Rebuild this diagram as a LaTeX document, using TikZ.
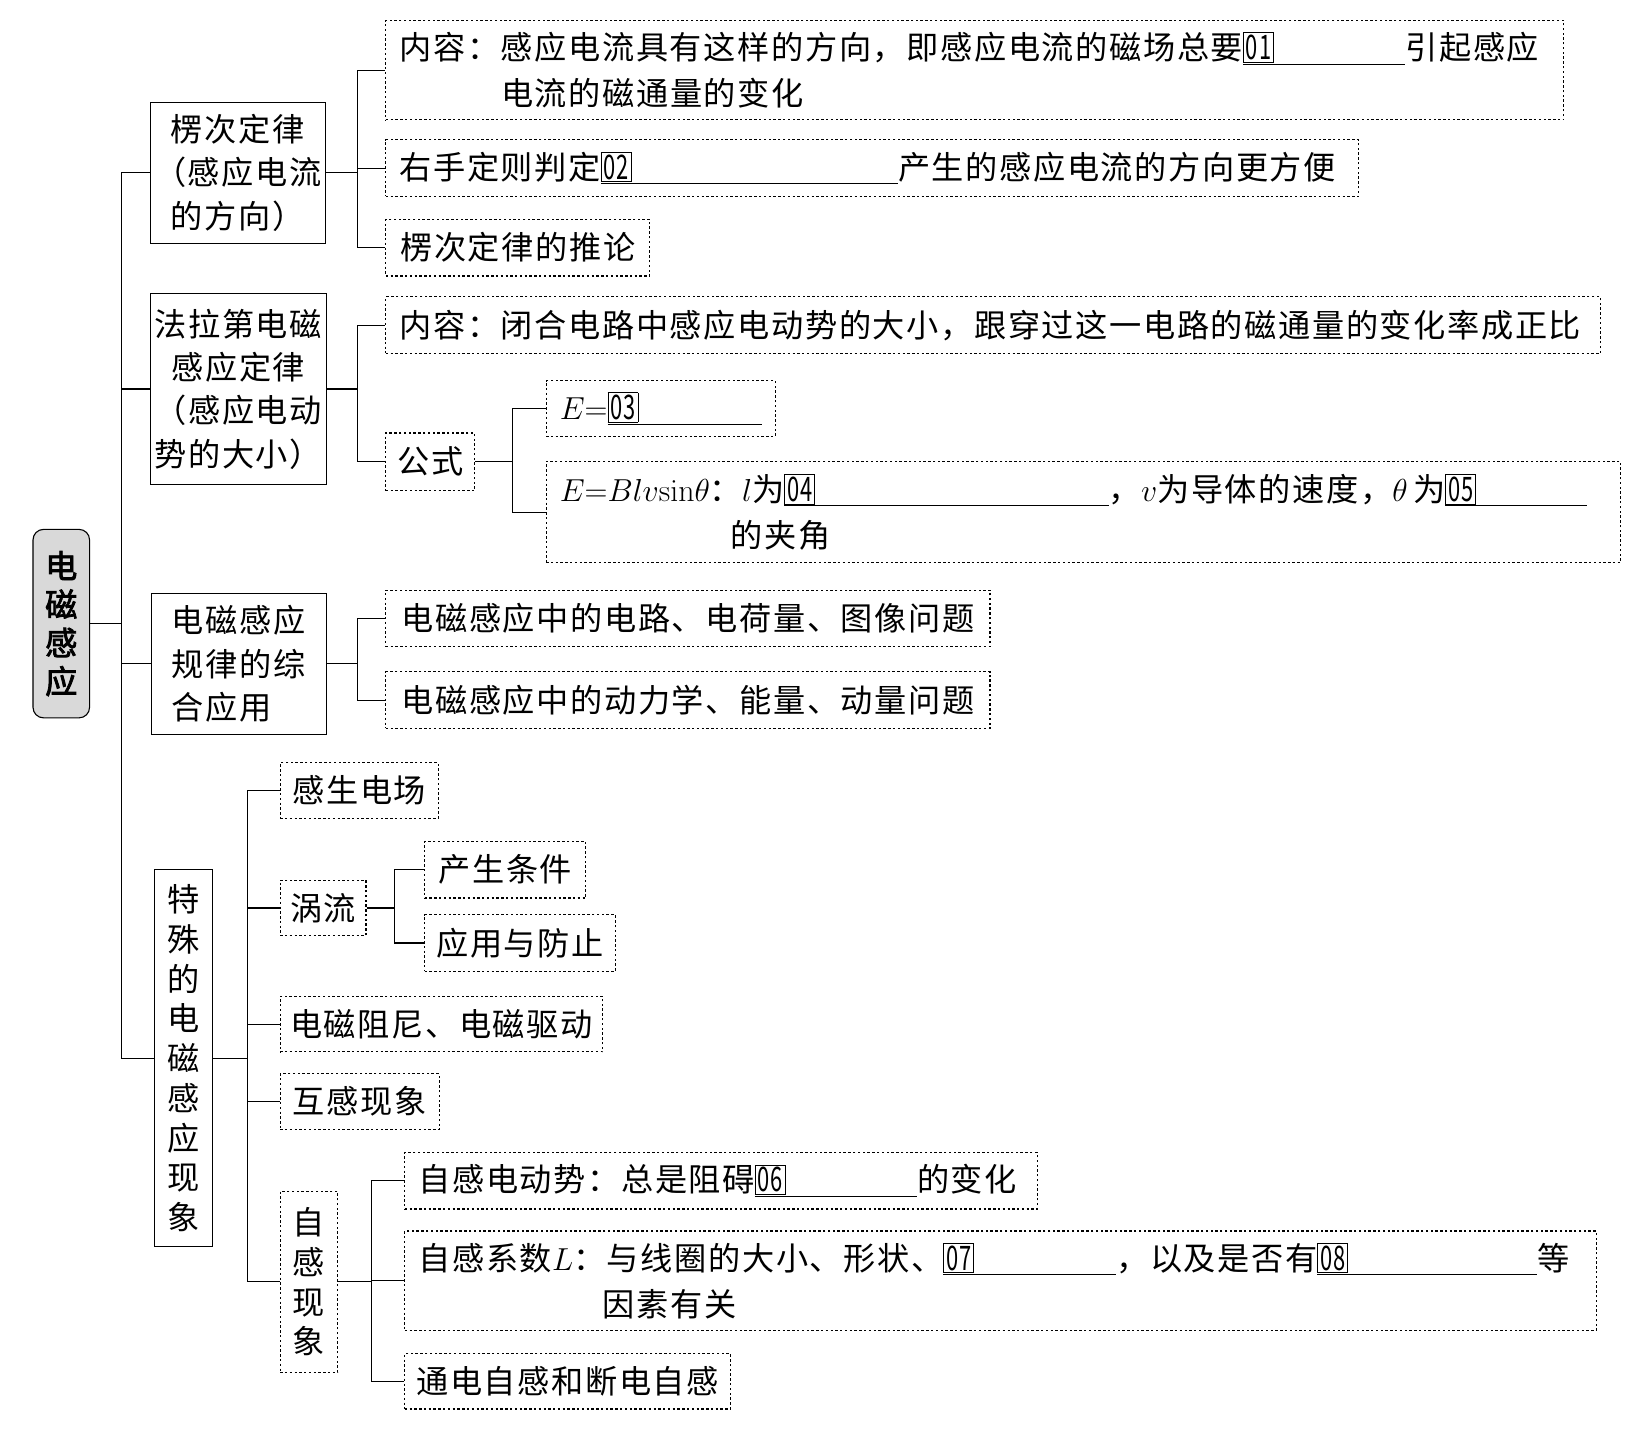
\documentclass[tikz,border=0pt]{standalone}
\usepackage[no-math]{fontspec}
\usepackage{graphicx}
\newfontfamily\cjk[LetterSpace=5]{Noto Sans CJK SC}
\newfontfamily\cjkbold[FakeBold=2.5]{Noto Sans CJK SC}
% numbered blank: framed number on an underline
\newcommand{\tiankong}[2]{\rlap{\fboxsep=1pt\fboxrule=0.5pt\fbox{\scalebox{0.68}[1.05]{#1}}}\rule[-2.8pt]{#2}{0.6pt}}
\begin{document}
\begin{tikzpicture}[x=0.02cm,y=-0.02cm,
  base/.style={font=\cjk\fontsize{17.5}{25}\selectfont, inner sep=0pt, anchor=north west, line width=0.6pt},
  hardbox/.style={base, draw, align=center},
  dotbox/.style={base, draw, dash pattern=on 1.3pt off 1.3pt, align=center},
  longbox/.style={dotbox, align=left, inner xsep=0.26cm},
  vert/.style={font=\cjk\fontsize{17.5}{21.6}\selectfont},
  multi/.style={font=\cjk\fontsize{17.5}{23.6}\selectfont},
  link/.style={line width=0.6pt}]
\useasboundingbox (0,0) rectangle (1568,1369);

% root
\node[base, draw, rounded corners=0.2cm, fill=gray!30, align=center, minimum width=1.08cm, minimum height=3.6cm,
  font=\cjkbold\fontsize{17.5}{20.9}\selectfont] (root) at (31,505) {电\\磁\\感\\应};

% level 1
\node[hardbox, multi, minimum width=3.34cm, minimum height=2.7cm] (lenz) at (143,97) {楞次定律\\（感应电流\\的方向）};
\node[hardbox, multi, minimum width=3.36cm, minimum height=3.64cm] (faraday) at (143,280) {法拉第电磁\\感应定律\\（感应电动\\势的大小）};
\node[hardbox, multi, align=left, minimum width=3.34cm, minimum height=2.7cm] (zonghe) at (144,566) {电磁感应\\规律的综\\合应用};
\node[hardbox, vert, minimum width=1.1cm, minimum height=7.2cm] (teshu) at (147,830) {特\\殊\\的\\电\\磁\\感\\应\\现\\象};

% Lenz's law
\node[longbox, minimum height=1.9cm, text width=21.98cm] (lenzA) at (368,19) {内容：感应电流具有这样的方向，即感应电流的磁场总要\tiankong{01}{3.1cm}引起感应\\\hspace*{1.94cm}电流的磁通量的变化};
\node[longbox, minimum height=1.08cm, text width=18.06cm] (lenzB) at (368,133) {右手定则判定\tiankong{02}{5.68cm}产生的感应电流的方向更方便};
\node[dotbox, minimum width=5.04cm, minimum height=1.08cm] (lenzC) at (368,209) {楞次定律的推论};

% Faraday's law
\node[longbox, minimum height=1.08cm, text width=22.68cm] (farA) at (368,283) {内容：闭合电路中感应电动势的大小，跟穿过这一电路的磁通量的变化率成正比};
\node[dotbox, minimum width=1.7cm, minimum height=1.1cm] (farB) at (368,413) {公式};
\node[longbox, minimum height=1.06cm, text width=3.86cm] (farC) at (521,363) {$E{=}$\tiankong{03}{2.95cm}};
\node[longbox, minimum height=1.94cm, text width=20cm] (farD) at (521,440) {$E{=}Blv\mathrm{sin}\theta$：$l$为\tiankong{04}{6.2cm}，$v$为导体的速度，$\theta$\,为\tiankong{05}{2.7cm}\\\hspace*{3.26cm}的夹角};

% combined use
\node[dotbox, minimum width=11.54cm, minimum height=1.08cm] (zhA) at (368,563) {电磁感应中的电路、电荷量、图像问题};
\node[dotbox, minimum width=11.54cm, minimum height=1.08cm] (zhB) at (368,641) {电磁感应中的动力学、能量、动量问题};

% special phenomena
\node[dotbox, minimum width=3.02cm, minimum height=1.06cm] (tsA) at (267,728) {感生电场};
\node[dotbox, minimum width=1.64cm, minimum height=1.06cm] (tsB) at (267,840) {涡流};
\node[dotbox, minimum width=3.08cm, minimum height=1.08cm] (tsB1) at (405,803) {产生条件};
\node[dotbox, minimum width=3.64cm, minimum height=1.08cm] (tsB2) at (405,873) {应用与防止};
\node[dotbox, minimum width=6.16cm, minimum height=1.06cm] (tsC) at (267,951) {电磁阻尼、电磁驱动};
\node[dotbox, minimum width=3.04cm, minimum height=1.06cm] (tsD) at (267,1025) {互感现象};
\node[dotbox, vert, minimum width=1.1cm, minimum height=3.46cm] (tsE) at (267,1137) {自\\感\\现\\象};
\node[longbox, minimum height=1.08cm, text width=11.56cm] (tsE1) at (386,1100) {自感电动势：总是阻碍\tiankong{06}{3.1cm}的变化};
\node[longbox, minimum height=1.9cm, text width=22.24cm] (tsE2) at (386,1175) {自感系数$L$：与线圈的大小、形状、\tiankong{07}{3.3cm}，以及是否有\tiankong{08}{4.2cm}等\\\hspace*{3.52cm}因素有关};
\node[dotbox, minimum width=6.22cm, minimum height=1.06cm] (tsE3) at (386,1292) {通电自感和断电自感};

% connectors
\foreach \c in {lenz,faraday,zonghe,teshu} \draw[link] (root.east) -- ++(30,0) |- (\c.west);
\foreach \c in {lenzA,lenzB,lenzC} \draw[link] (lenz.east) -- ++(30,0) |- (\c.west);
\foreach \c in {farA,farB} \draw[link] (faraday.east) -- ++(29,0) |- (\c.west);
\foreach \c in {farC,farD} \draw[link] (farB.east) -- ++(35,0) |- (\c.west);
\foreach \c in {zhA,zhB} \draw[link] (zonghe.east) -- ++(29,0) |- (\c.west);
\foreach \c in {tsA,tsB,tsC,tsD,tsE} \draw[link] (teshu.east) -- ++(33,0) |- (\c.west);
\foreach \c in {tsB1,tsB2} \draw[link] (tsB.east) -- ++(27,0) |- (\c.west);
\foreach \c in {tsE1,tsE2,tsE3} \draw[link] (tsE.east) -- ++(32,0) |- (\c.west);
\end{tikzpicture}
\end{document}
